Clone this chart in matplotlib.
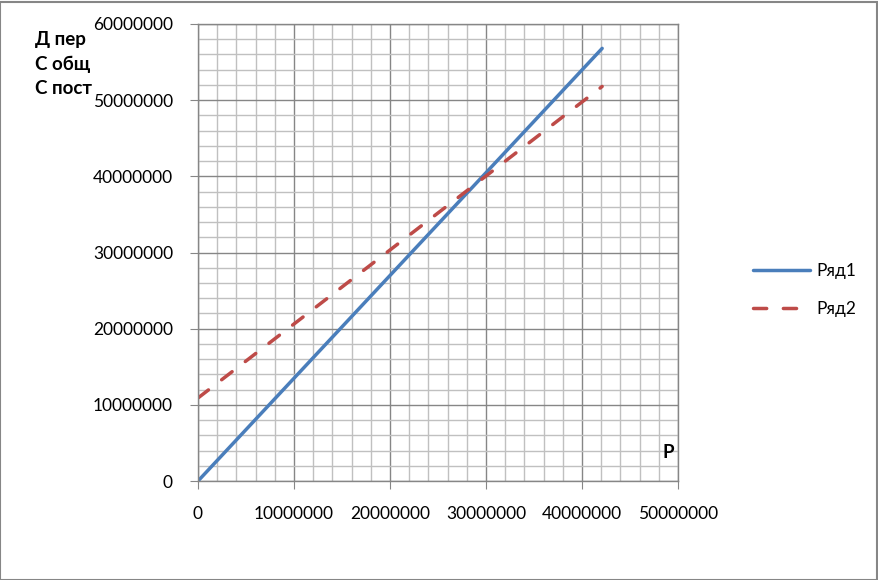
import matplotlib
matplotlib.use('Agg')
import matplotlib.pyplot as plt
from matplotlib.ticker import MultipleLocator, FuncFormatter
from matplotlib.patches import Rectangle

plt.rcParams['font.family'] = ['Lato', 'DejaVu Sans']

# данные
P = [0, 42100000]
ryad1 = [0, 56800000]
ryad2 = [10900000, 51800000]
names = ['Ряд1', 'Ряд2']
ylabels = ['Д пер', 'С общ', 'С пост']

W, H = 879, 580
fig = plt.figure(figsize=(W / 100, H / 100), dpi=100)
ax = fig.add_axes([198 / W, 1 - 481 / H, 480 / W, 457 / H])

major = '#868686'
minor = '#c0c0c0'

ax.plot(P, ryad1, color='#4a7ebb', lw=2.5, solid_capstyle='round', label=names[0])
ax.plot(P, ryad2, color='#be4b48', lw=2.5, linestyle=(0, (3.8, 4.8)),
        dash_capstyle='round', label=names[1])

ax.set_xlim(0, 50000000)
ax.set_ylim(0, 60000000)
ax.xaxis.set_major_locator(MultipleLocator(10000000))
ax.yaxis.set_major_locator(MultipleLocator(10000000))
ax.xaxis.set_minor_locator(MultipleLocator(2000000))
ax.yaxis.set_minor_locator(MultipleLocator(2000000))
fmt = FuncFormatter(lambda v, p: '%d' % v)
ax.xaxis.set_major_formatter(fmt)
ax.yaxis.set_major_formatter(fmt)

ax.grid(which='major', color=major, lw=1.0, zorder=0)
ax.grid(which='minor', color=minor, lw=1.0, zorder=0)
ax.set_axisbelow(True)
for s in ax.spines.values():
    s.set_color(major)
    s.set_linewidth(1.0)
ax.tick_params(which='major', length=6, color=major, labelsize=12.5, labelcolor='black')
ax.tick_params(axis='x', pad=12)
ax.tick_params(axis='y', pad=12)
ax.tick_params(which='minor', length=0)

# подписи осей
for i, t in enumerate(ylabels):
    fig.text(35 / W, 1 - (40 + i * 24) / H, t, fontsize=13.5, fontweight='bold',
             va='center', ha='left')
fig.text(663 / W, 1 - 453 / H, 'P', fontsize=13.5, fontweight='bold', va='center', ha='left')

fig.legend(loc='center left', bbox_to_anchor=(737 / W, 1 - 290 / H), frameon=False,
           fontsize=12.5, handlelength=3.3, handletextpad=0.4, labelspacing=1.3)

fig.patches.append(Rectangle((0.5 / W, 0.5 / H), 1 - 2 / W, 1 - 2 / H, transform=fig.transFigure,
                             fill=False, edgecolor='#868686', lw=1.5))

fig.savefig('out.png', dpi=100)
